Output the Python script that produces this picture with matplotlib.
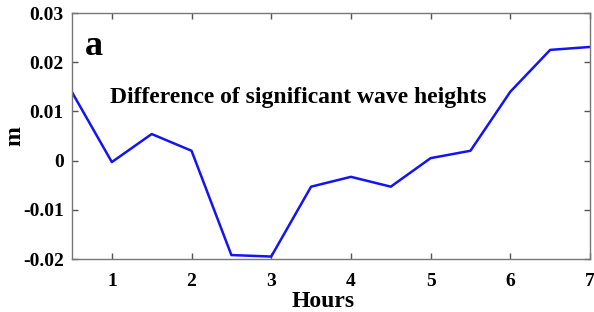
import matplotlib
matplotlib.use("Agg")
import matplotlib.pyplot as plt

# hours and difference of significant wave heights (m)
hours = [0.5, 1, 1.5, 2, 2.5, 3, 3.5, 4, 4.5, 5, 5.5, 6, 6.5, 7]
diff = [0.0139, -0.0003, 0.0054, 0.002, -0.0192, -0.0195, -0.0053,
        -0.0033, -0.0053, 0.0005, 0.002, 0.014, 0.0225, 0.0231]

plt.rcParams["font.family"] = ["Liberation Serif", "DejaVu Serif"]
plt.rcParams["font.weight"] = "bold"

fig = plt.figure(figsize=(5.94, 3.12), dpi=100)
ax = fig.add_axes([72 / 594, 1 - 259 / 312, (590 - 72) / 594, (259 - 13) / 312])

ax.plot(hours, diff, color="#1414ee", linewidth=1.8)

ax.set_xlim(0.5, 7)
ax.set_ylim(-0.02, 0.03)
ax.set_xticks([1, 2, 3, 4, 5, 6, 7])
ax.set_yticks([-0.02, -0.01, 0, 0.01, 0.02, 0.03])
ax.set_yticklabels(["-0.02", "-0.01", "0", "0.01", "0.02", "0.03"])
ax.tick_params(direction="in", top=True, right=True, labelsize=14,
               length=4, color="#555555", width=1)
ax.tick_params(axis="x", pad=10)
ax.tick_params(axis="y", pad=6)
for lbl in ax.get_xticklabels() + ax.get_yticklabels():
    lbl.set_fontweight("bold")
for s in ax.spines.values():
    s.set_color("#777777")
    s.set_linewidth(1)

ax.set_xlabel("Hours", fontsize=17, fontweight="bold")
ax.xaxis.set_label_coords(0.485, -0.13, transform=ax.transAxes)
ax.xaxis.label.set_va("top")
ax.set_ylabel("m", fontsize=17, fontweight="bold")
ax.yaxis.set_label_coords(-0.09, 0.5, transform=ax.transAxes)

ax.text(0.025, 0.93, "a", transform=ax.transAxes, fontsize=26,
        fontweight="bold", va="top", ha="left")
ax.text(0.073, 0.655, "Difference of significant wave heights",
        transform=ax.transAxes, fontsize=17, fontweight="bold",
        va="center", ha="left")

fig.savefig("out.png", dpi=100)
